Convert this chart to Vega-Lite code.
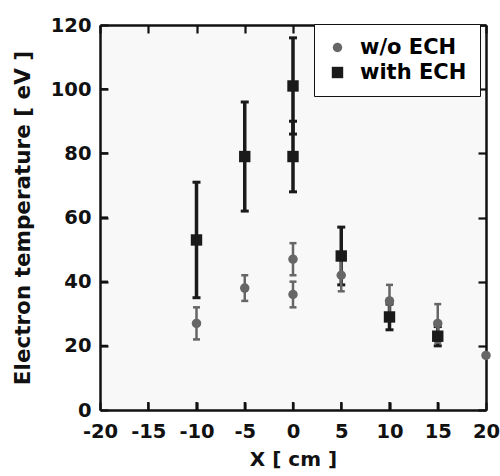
{
  "$schema": "https://vega.github.io/schema/vega-lite/v6.json",
  "autosize": "none",
  "width": 386,
  "height": 385,
  "padding": {"left": 100, "top": 25, "right": 14, "bottom": 66},
  "background": "white",
  "config": {
    "view": {"fill": "#f8f8f8", "stroke": null},
    "font": "DejaVu Sans",
    "axis": {"grid": false, "domainColor": "#111111", "domainWidth": 2.5, "tickColor": "#111111", "tickWidth": 2.2, "labelFont": "DejaVu Sans", "labelFontWeight": "bold", "labelFontSize": 19.5, "labelColor": "#111111", "titleFont": "DejaVu Sans", "titleFontWeight": "bold", "titleColor": "#111111", "labelFlush": false, "labelOverlap": false}
  },
  "datasets": {
    "pts": [
      {"series": "w/o ECH", "x": -10, "y": 27, "lo": 22, "hi": 32},
      {"series": "w/o ECH", "x": -5, "y": 38, "lo": 34, "hi": 42},
      {"series": "w/o ECH", "x": 0, "y": 47, "lo": 42, "hi": 52},
      {"series": "w/o ECH", "x": 0, "y": 36, "lo": 32, "hi": 40},
      {"series": "w/o ECH", "x": 5, "y": 42, "lo": 37, "hi": 47},
      {"series": "w/o ECH", "x": 10, "y": 34, "lo": 29, "hi": 39},
      {"series": "w/o ECH", "x": 15, "y": 27, "lo": 21, "hi": 33},
      {"series": "w/o ECH", "x": 20, "y": 17, "lo": null, "hi": null},
      {"series": "with ECH", "x": -10, "y": 53, "lo": 35, "hi": 71},
      {"series": "with ECH", "x": -5, "y": 79, "lo": 62, "hi": 96},
      {"series": "with ECH", "x": 0, "y": 101, "lo": 86, "hi": 116},
      {"series": "with ECH", "x": 0, "y": 79, "lo": 68, "hi": 90},
      {"series": "with ECH", "x": 5, "y": 48, "lo": 39, "hi": 57},
      {"series": "with ECH", "x": 10, "y": 29, "lo": 25, "hi": 33},
      {"series": "with ECH", "x": 15, "y": 23, "lo": 20, "hi": 26}
    ],
    "xticks": [
      {"v": -15}, {"v": -10}, {"v": -5}, {"v": 0}, {"v": 5}, {"v": 10}, {"v": 15}
    ],
    "yticks": [
      {"v": 20}, {"v": 40}, {"v": 60}, {"v": 80}, {"v": 100}
    ]
  },
  "data": {"name": "pts"},
  "resolve": {"axis": {"x": "independent", "y": "independent"}},
  "layer": [
    {
      "transform": [{"filter": "datum.series === 'with ECH'"}],
      "mark": {"type": "rule", "color": "#1a1a1a", "strokeWidth": 3.5},
      "encoding": {
        "x": {"field": "x", "type": "quantitative", "scale": {"domain": [-20, 20], "nice": false, "zero": false},
          "axis": {"orient": "bottom", "values": [-20, -15, -10, -5, 0, 5, 10, 15, 20], "tickSize": -8, "labelPadding": 20, "labelExpr": "datum.value < 0 ? '-' + abs(datum.value) : '' + datum.value", "title": "X [ cm ]", "titleFontSize": 20, "titlePadding": 9}},
        "y": {"field": "lo", "type": "quantitative", "scale": {"domain": [0, 120], "nice": false, "zero": false},
          "axis": {"orient": "left", "values": [0, 20, 40, 60, 80, 100, 120], "tickSize": -8, "labelPadding": 17, "title": "Electron temperature [ eV ]", "titleFontSize": 21.5, "titlePadding": 16}},
        "y2": {"field": "hi"}
      }
    },
    {
      "transform": [{"filter": "datum.series === 'with ECH'"}],
      "mark": {"type": "tick", "orient": "horizontal", "color": "#1a1a1a", "size": 8, "thickness": 3, "opacity": 1},
      "encoding": {
        "x": {"field": "x", "type": "quantitative", "scale": {"domain": [-20, 20], "nice": false, "zero": false},
          "axis": {"orient": "top", "values": [-20, -15, -10, -5, 0, 5, 10, 15, 20], "tickSize": -8, "labels": false, "title": null}},
        "y": {"field": "lo", "type": "quantitative", "scale": {"domain": [0, 120], "nice": false, "zero": false},
          "axis": {"orient": "right", "values": [0, 20, 40, 60, 80, 100, 120], "tickSize": -8, "labels": false, "title": null}}
      }
    },
    {
      "transform": [{"filter": "datum.series === 'with ECH'"}],
      "mark": {"type": "tick", "orient": "horizontal", "color": "#1a1a1a", "size": 8, "thickness": 3, "opacity": 1},
      "encoding": {
        "x": {"field": "x", "type": "quantitative", "scale": {"domain": [-20, 20], "nice": false, "zero": false}, "axis": null},
        "y": {"field": "hi", "type": "quantitative", "scale": {"domain": [0, 120], "nice": false, "zero": false}, "axis": null}
      }
    },
    {
      "data": {"name": "xticks"},
      "mark": {"type": "tick", "orient": "vertical", "color": "#111111", "size": 16, "thickness": 2.2, "opacity": 1, "clip": true},
      "encoding": {
        "x": {"field": "v", "type": "quantitative", "axis": null},
        "y": {"datum": 0, "type": "quantitative", "axis": null}
      }
    },
    {
      "data": {"name": "yticks"},
      "mark": {"type": "tick", "orient": "horizontal", "color": "#111111", "size": 16, "thickness": 2.2, "opacity": 1, "clip": true},
      "encoding": {
        "x": {"datum": -20, "type": "quantitative", "axis": null},
        "y": {"field": "v", "type": "quantitative", "axis": null}
      }
    },
    {
      "transform": [{"filter": "datum.series === 'w/o ECH'"}],
      "mark": {"type": "rule", "color": "#666666", "strokeWidth": 2.5},
      "encoding": {
        "x": {"field": "x", "type": "quantitative", "axis": null},
        "y": {"field": "lo", "type": "quantitative", "axis": null},
        "y2": {"field": "hi"}
      }
    },
    {
      "transform": [{"filter": "datum.series === 'w/o ECH'"}],
      "mark": {"type": "tick", "orient": "horizontal", "color": "#666666", "size": 7, "thickness": 2.5, "opacity": 1},
      "encoding": {
        "x": {"field": "x", "type": "quantitative", "axis": null},
        "y": {"field": "lo", "type": "quantitative", "axis": null}
      }
    },
    {
      "transform": [{"filter": "datum.series === 'w/o ECH'"}],
      "mark": {"type": "tick", "orient": "horizontal", "color": "#666666", "size": 7, "thickness": 2.5, "opacity": 1},
      "encoding": {
        "x": {"field": "x", "type": "quantitative", "axis": null},
        "y": {"field": "hi", "type": "quantitative", "axis": null}
      }
    },
    {
      "mark": {"type": "point", "filled": true, "opacity": 1, "clip": false},
      "encoding": {
        "x": {"field": "x", "type": "quantitative", "axis": null},
        "y": {"field": "y", "type": "quantitative", "axis": null},
        "color": {"field": "series", "type": "nominal", "scale": {"domain": ["w/o ECH", "with ECH"], "range": ["#666666", "#1a1a1a"]},
          "legend": {"title": null, "orient": "none", "legendX": 214, "legendY": -1, "fillColor": "white", "strokeColor": "#111111", "padding": 13, "labelFont": "DejaVu Sans", "labelFontWeight": "bold", "labelFontSize": 21, "labelOffset": 12, "rowPadding": 3, "symbolSize": 110, "symbolStrokeWidth": 0,
            "encode": {"legend": {"update": {"strokeWidth": {"value": 2.5}}}, "labels": {"update": {"fill": {"signal": "datum.value === 'w/o ECH' ? '#666666' : '#111111'"}}}}}},
        "shape": {"field": "series", "type": "nominal", "scale": {"domain": ["w/o ECH", "with ECH"], "range": ["circle", "square"]}},
        "size": {"field": "series", "type": "nominal", "scale": {"domain": ["w/o ECH", "with ECH"], "range": [90, 130]}, "legend": null}
      }
    }
  ]
}
